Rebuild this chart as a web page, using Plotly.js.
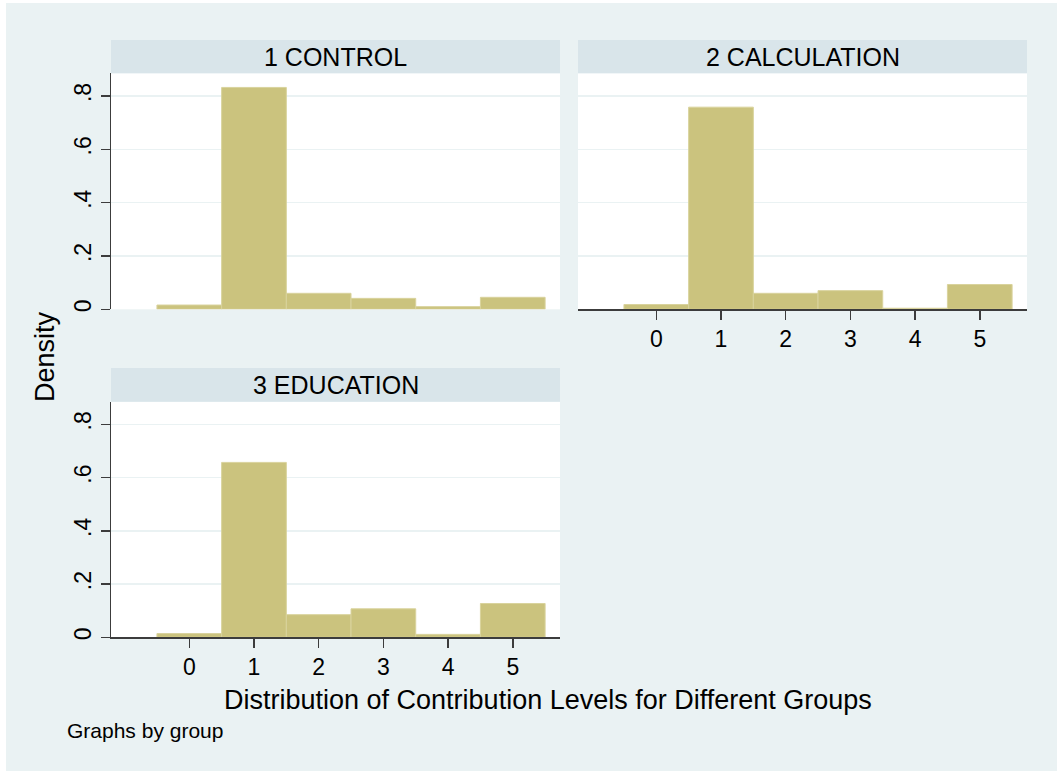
<!DOCTYPE html>
<html>
<head>
<meta charset="utf-8">
<script src="https://cdn.plot.ly/plotly-3.0.1.min.js"></script>
<style>
  html, body { margin: 0; padding: 0; background: #ffffff; }
  #chart { position: absolute; left: 6px; top: 3px; width: 1051px; height: 768px; }
</style>
</head>
<body>
<div id="chart"></div>
<script>
// Contribution levels (bins) and the density of each level per group
const categories = [0, 1, 2, 3, 4, 5];
const groupNames = ['1 CONTROL', '2 CALCULATION', '3 EDUCATION'];
const controlDensity = [0.016, 0.832, 0.060, 0.041, 0.010, 0.045];
const calculationDensity = [0.018, 0.758, 0.060, 0.070, 0.004, 0.093];
const educationDensity = [0.014, 0.657, 0.085, 0.107, 0.011, 0.127];
const yTickVals = [0, 0.2, 0.4, 0.6, 0.8];
const yTickText = ['0', '.2', '.4', '.6', '.8'];
const xTickText = ['0', '1', '2', '3', '4', '5'];
const xAxisTitle = 'Distribution of Contribution Levels for Different Groups';
const yAxisTitle = 'Density';
const noteText = 'Graphs by group';

// Page geometry helpers (pixel -> paper fraction)
const W = 1051, H = 768, OX = 6, OY = 3;
const px = x => (x - OX) / W;
const py = y => 1 - (y - OY) / H;

const FONT = 'Liberation Sans, Arial, Helvetica, sans-serif';
const BAR_FILL = '#cbc37e';
const BAR_EDGE = '#d9d39d';
const BG = '#eaf2f3';
const HEADER = '#d9e5ea';
const GRID = '#eaf2f3';
const AXIS = '#3c3c3c';

// Panel boxes: [left, right, headerTop, plotTop, plotBottom]
const panels = [
  [111, 560, 40, 73.3, 309.3],
  [578, 1027, 40, 73.3, 309.3],
  [111, 560, 368, 401.7, 637.3]
];
const series = [controlDensity, calculationDensity, educationDensity];

const traces = series.map((vals, i) => ({
  type: 'bar',
  x: categories,
  y: vals,
  width: 1,
  xaxis: i === 0 ? 'x' : 'x' + (i + 1),
  yaxis: i === 0 ? 'y' : 'y' + (i + 1),
  marker: { color: BAR_FILL, line: { color: BAR_EDGE, width: 1 } },
  hoverinfo: 'x+y',
  showlegend: false
}));

function xAxis(i, show) {
  const p = panels[i];
  return {
    domain: [px(p[0]), px(p[1])],
    anchor: i === 0 ? 'y' : 'y' + (i + 1),
    range: [-1.21, 5.73],
    tickvals: categories,
    ticktext: xTickText,
    showticklabels: show,
    ticks: show ? 'outside' : '',
    ticklen: 9,
    tickwidth: 1.5,
    tickcolor: AXIS,
    showline: show,
    linecolor: AXIS,
    linewidth: 1.5,
    showgrid: false,
    zeroline: false,
    tickfont: { family: FONT, size: 23, color: '#000' },
    fixedrange: true
  };
}

function yAxis(i, show) {
  const p = panels[i];
  return {
    domain: [py(p[4]), py(p[3])],
    anchor: i === 0 ? 'x' : 'x' + (i + 1),
    range: [0, 0.885],
    tickvals: yTickVals,
    ticktext: yTickText,
    tickangle: -90,
    showticklabels: show,
    ticks: show ? 'outside' : '',
    ticklen: 9,
    tickwidth: 1.5,
    tickcolor: AXIS,
    showline: show,
    linecolor: AXIS,
    linewidth: 1.5,
    showgrid: true,
    gridcolor: GRID,
    gridwidth: 1.5,
    zeroline: false,
    tickfont: { family: FONT, size: 23, color: '#000' },
    fixedrange: true
  };
}

// Header strips above each panel, with the group name centred in them
const shapes = panels.map(p => ({
  type: 'rect', xref: 'paper', yref: 'paper', layer: 'below',
  x0: px(p[0]), x1: px(p[1]), y0: py(p[3]), y1: py(p[2]),
  fillcolor: HEADER, line: { width: 0 }
}));

const annotations = panels.map((p, i) => ({
  xref: 'paper', yref: 'paper',
  x: px((p[0] + p[1]) / 2), y: py((p[2] + p[3]) / 2),
  xanchor: 'center', yanchor: 'middle',
  text: groupNames[i], showarrow: false,
  font: { family: FONT, size: 25, color: '#000' }
}));

annotations.push({
  xref: 'paper', yref: 'paper', x: px(548), y: py(700),
  xanchor: 'center', yanchor: 'middle', showarrow: false,
  text: xAxisTitle, font: { family: FONT, size: 27, color: '#000' }
});
annotations.push({
  xref: 'paper', yref: 'paper', x: px(45), y: py(357),
  xanchor: 'center', yanchor: 'middle', showarrow: false, textangle: -90,
  text: yAxisTitle, font: { family: FONT, size: 27, color: '#000' }
});
annotations.push({
  xref: 'paper', yref: 'paper', x: px(65), y: py(730),
  xanchor: 'left', yanchor: 'middle', showarrow: false,
  text: noteText, font: { family: FONT, size: 21, color: '#000' }
});

const layout = {
  width: W, height: H,
  margin: { l: 0, r: 0, t: 0, b: 0 },
  paper_bgcolor: BG,
  plot_bgcolor: '#ffffff',
  xaxis: xAxis(0, false), yaxis: yAxis(0, true),
  xaxis2: xAxis(1, true), yaxis2: yAxis(1, false),
  xaxis3: xAxis(2, true), yaxis3: yAxis(2, true),
  shapes: shapes,
  annotations: annotations,
  bargap: 0
};

Plotly.newPlot('chart', traces, layout, { displayModeBar: false, staticPlot: true });
</script>
</body>
</html>
